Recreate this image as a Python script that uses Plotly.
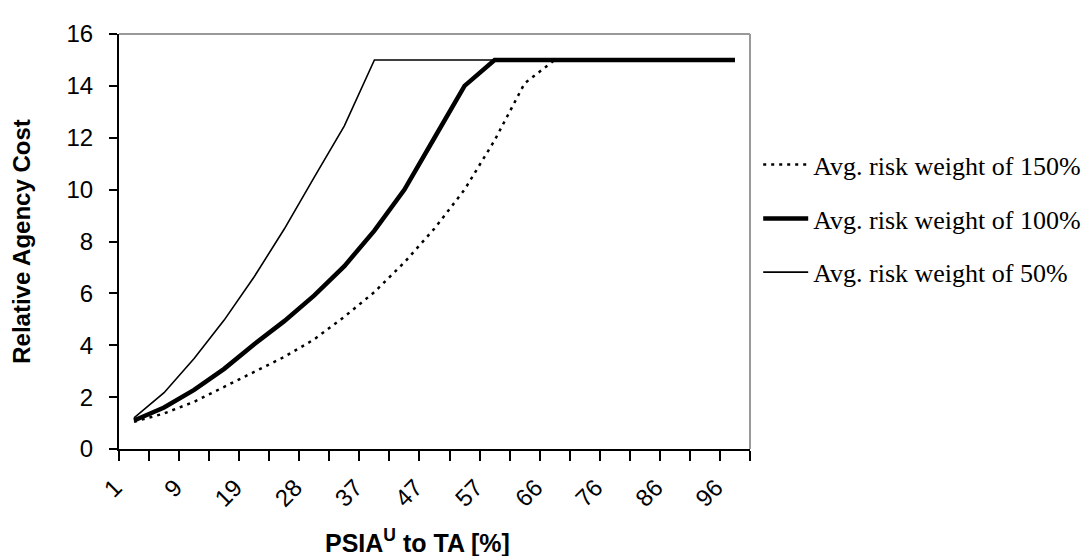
import plotly.graph_objects as go

# Category axis values (PSIA^U to TA [%]); only every other one is labelled
x_cats = ["1", "5", "9", "14", "19", "24", "28", "33", "37", "42", "47",
          "52", "57", "61", "66", "71", "76", "81", "86", "91", "96"]
x_tick_labels = ["1", "9", "19", "28", "37", "47", "57", "66", "76", "86", "96"]

# Relative agency cost per series
rw150 = [1.05, 1.37, 1.82, 2.40, 2.95, 3.55, 4.23, 5.10, 6.05, 7.20, 8.50,
         10.0, 11.9, 14.1, 15, 15, 15, 15, 15, 15, 15]
rw100 = [1.10, 1.60, 2.28, 3.09, 4.04, 4.93, 5.92, 7.05, 8.42, 10.0, 12.0,
         14.0, 15, 15, 15, 15, 15, 15, 15, 15, 15]
rw50 = [1.20, 2.17, 3.49, 4.97, 6.64, 8.48, 10.48, 12.46, 15, 15, 15,
        15, 15, 15, 15, 15, 15, 15, 15, 15, 15]

series_names = ["Avg. risk weight of 150%", "Avg. risk weight of 100%",
                "Avg. risk weight of 50%"]

# category index positions (the axis is a category axis drawn on a linear scale)
x_pos = list(range(len(x_cats)))
label_pos = [x_pos[x_cats.index(lbl)] for lbl in x_tick_labels]

fig = go.Figure()
fig.add_trace(go.Scatter(x=x_pos, y=rw150, mode="lines", name=series_names[0],
                         legendgroup="g1", customdata=x_cats,
                         line=dict(color="black", width=2.5, dash="3px,5px")))
fig.add_trace(go.Scatter(x=x_pos, y=rw100, mode="lines", name=series_names[1],
                         legendgroup="g2", customdata=x_cats,
                         line=dict(color="black", width=4.5)))
fig.add_trace(go.Scatter(x=x_pos, y=rw50, mode="lines", name=series_names[2],
                         legendgroup="g3", customdata=x_cats,
                         line=dict(color="black", width=1.6)))

tickfont = dict(family="Liberation Sans, Arial", size=24, color="black")

fig.update_layout(
    width=1090, height=556,
    margin=dict(l=111, r=346, t=21, b=115),
    plot_bgcolor="white", paper_bgcolor="white",
    showlegend=True,
    legend=dict(x=1.013, xanchor="left", y=0.555, yanchor="middle",
                font=dict(family="Liberation Serif, Times New Roman", size=26, color="black"),
                bgcolor="rgba(0,0,0,0)", borderwidth=0, traceorder="grouped",
                tracegroupgap=17, itemwidth=45),
    xaxis=dict(range=[-0.5, len(x_cats) - 0.5],
               tickmode="array", tickvals=label_pos, ticktext=x_tick_labels,
               tickangle=-45, ticks="", tickfont=tickfont,
               ticklabelshift=-19, ticklabelstandoff=13,
               minor=dict(tick0=-0.5, dtick=1, ticks="outside", ticklen=10,
                          tickwidth=2, tickcolor="black", showgrid=False),
               showline=True, linecolor="black", linewidth=2,
               showgrid=False, zeroline=False),
    yaxis=dict(range=[0, 16], dtick=2, tick0=0, ticks="outside", ticklen=8,
               tickwidth=2, tickcolor="black", tickfont=tickfont,
               ticklabelstandoff=11,
               showline=True, linecolor="black", linewidth=2,
               showgrid=False, zeroline=False,
               title=dict(text="<b>Relative Agency Cost</b>",
                          font=dict(family="Liberation Sans, Arial", size=24, color="black"),
                          standoff=30)),
    annotations=[
        dict(text="<b>PSIA<sup>U</sup> to TA [%]</b>", xref="paper", yref="paper",
             x=0.473, y=-0.222, xanchor="center", yanchor="middle", showarrow=False,
             font=dict(family="Liberation Sans, Arial", size=25, color="black")),
    ],
    shapes=[
        dict(type="line", xref="paper", yref="paper", x0=0, x1=1, y0=1, y1=1,
             line=dict(color="#999999", width=2)),
        dict(type="line", xref="paper", yref="paper", x0=1, x1=1, y0=0, y1=1,
             line=dict(color="#999999", width=2)),
    ],
)

fig.write_html("out.html")
